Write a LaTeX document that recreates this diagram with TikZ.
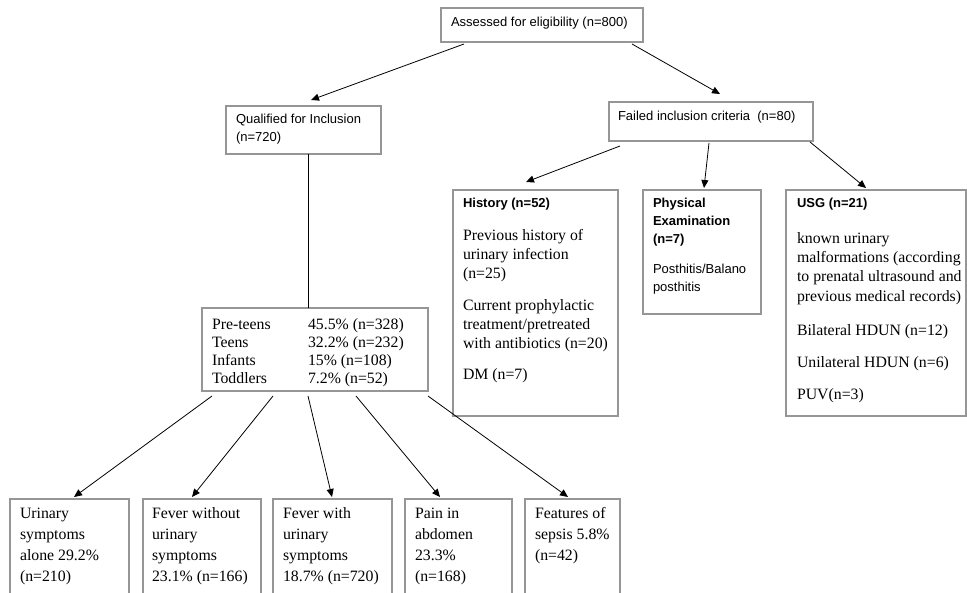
\documentclass[tikz,border=0pt]{standalone}
\usepackage{fontspec}
\setmainfont{Liberation Serif}
\setsansfont{Liberation Sans}
\usetikzlibrary{arrows.meta,calc}
\definecolor{boxgray}{RGB}{150,150,150}
\newcommand\sfsm{\sffamily\fontsize{13}{18}\selectfont}
\newcommand\sfbd{\sffamily\bfseries\fontsize{13}{18}\selectfont}
\newcommand\rmsm{\rmfamily\fontsize{15.8}{19.2}\selectfont}
\newcommand\rmbt{\rmfamily\fontsize{15.8}{21}\selectfont}
\begin{document}
\begin{tikzpicture}[x=1pt,y=-1pt,
  box/.style={draw=boxgray,line width=1.2pt,anchor=north west,inner sep=0pt,outer sep=0pt},
  txt/.style={anchor=north west,inner sep=0pt,outer sep=0pt,align=left},
  arr/.style={line width=0.8pt,-{Triangle[length=8pt,width=7pt]}},
  plain/.style={line width=0.8pt}]
\useasboundingbox (0,0) rectangle (967,593);
\clip (0,0) rectangle (967,593);
% boxes
\node[box,minimum width=202pt,minimum height=34pt] (assess) at (441,8) {};
\node[box,minimum width=155pt,minimum height=48pt] (qual) at (226,106) {};
\node[box,minimum width=204pt,minimum height=39pt] (failed) at (609,102) {};
\node[box,minimum width=165pt,minimum height=226pt] (hist) at (453,190) {};
\node[box,minimum width=118pt,minimum height=124pt] (phys) at (643,190) {};
\node[box,minimum width=180pt,minimum height=226pt] (usg) at (786,190) {};
\node[box,minimum width=226pt,minimum height=83pt] (pre) at (202,308) {};
\node[box,minimum width=119pt,minimum height=110pt] (b1) at (10,499) {};
\node[box,minimum width=118pt,minimum height=110pt] (b2) at (143,499) {};
\node[box,minimum width=119pt,minimum height=110pt] (b3) at (273,499) {};
\node[box,minimum width=107pt,minimum height=110pt] (b4) at (405,499) {};
\node[box,minimum width=95pt,minimum height=110pt] (b5) at (525,499) {};
% texts
\node[txt,font=\sfsm] (assess-t) at (451,14) {\strut Assessed for eligibility (n=800)};
\node[txt,font=\sfsm] (qual-t) at (236,111) {\strut Qualified for Inclusion\\(n=720)};
\node[txt,font=\sfsm] (failed-t) at (618,108) {\strut Failed inclusion criteria\ \ (n=80)};
\node[txt,font=\sfbd] (hist-h) at (463,195) {\strut History (n=52)};
\node[txt,font=\rmsm] (hist-t) at (463,227) {\strut Previous history of\\urinary infection\\(n=25)\\[12pt]Current prophylactic\\treatment/pretreated\\with antibiotics (n=20)\\[12pt]DM (n=7)};
\node[txt,font=\sfbd] (phys-h) at (653,195) {\strut Physical\\Examination\\(n=7)};
\node[txt,font=\sfsm] (phys-t) at (653,261) {\strut Posthitis/Balano\\posthitis};
\node[txt,font=\sfbd] (usg-h) at (797,195) {\strut USG (n=21)};
\node[txt,font=\rmsm] (usg-t) at (797,230) {\strut known urinary\\malformations (according\\to prenatal ultrasound and\\previous medical records)\\[15pt]Bilateral HDUN (n=12)\\[13pt]Unilateral HDUN (n=6)\\[13pt]PUV(n=3)};
\node[txt,font=\rmsm] (pre-t) at (212,316) {%
  \begin{tabular}{@{}p{96pt}@{}l@{}}
  Pre-teens & 45.5\% (n=328)\\[-1.2pt]
  Teens & 32.2\% (n=232)\\[-1.2pt]
  Infants & 15\% (n=108)\\[-1.2pt]
  Toddlers & 7.2\% (n=52)
  \end{tabular}};
\node[txt,font=\rmbt] (b1-t) at (20,504) {\strut Urinary\\symptoms\\alone 29.2\%\\(n=210)};
\node[txt,font=\rmbt] (b2-t) at (152,504) {\strut Fever without\\urinary\\symptoms\\23.1\% (n=166)};
\node[txt,font=\rmbt] (b3-t) at (283,504) {\strut Fever with\\urinary\\symptoms\\18.7\% (n=720)};
\node[txt,font=\rmbt] (b4-t) at (415,504) {\strut Pain in\\abdomen\\23.3\%\\(n=168)};
\node[txt,font=\rmbt] (b5-t) at (535,504) {\strut Features of\\sepsis 5.8\%\\(n=42)};
% connectors
\draw[arr] ($(assess.south west)+(23,2)$) -- ($(qual.north west)+(85,-6)$);
\draw[arr] ($(assess.south east)+(-11,2)$) -- ($(failed.north west)+(111,-8)$);
\draw[arr] ($(failed.south west)+(11,5)$) -- ($(hist.north west)+(73,-8)$);
\draw[arr] ($(failed.south west)+(100,2)$) -- ($(phys.north west)+(61,-2)$);
\draw[arr] ($(failed.south east)+(-3,1)$) -- ($(usg.north west)+(80,-2)$);
\draw[plain] ($(qual.south west)+(82,0)$) -- ($(pre.north west)+(106,0)$);
\draw[arr] ($(pre.south west)+(10,5)$) -- ($(b1.north west)+(64,-2)$);
\draw[arr] ($(pre.south west)+(71,5)$) -- ($(b2.north west)+(49,-2)$);
\draw[arr] ($(pre.south west)+(106,5)$) -- ($(b3.north west)+(59,-2)$);
\draw[arr] ($(pre.south west)+(154,5)$) -- ($(b4.north west)+(35,-2)$);
\draw[arr] ($(pre.south west)+(226,5)$) -- ($(b5.north west)+(43,-2)$);
\end{tikzpicture}
\end{document}
